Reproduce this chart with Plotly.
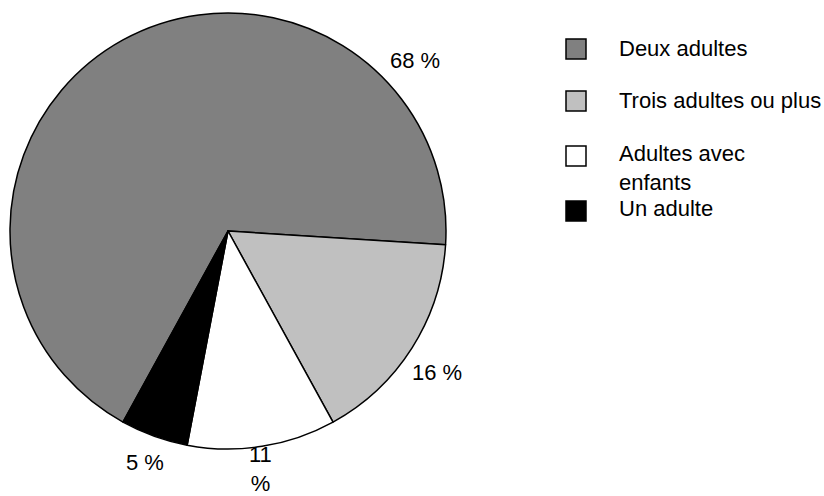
import plotly.graph_objects as go

# Household composition shares (%)
categories = ["Deux adultes", "Trois adultes ou plus", "Adultes avec enfants", "Un adulte"]
values = [68, 16, 11, 5]
colors = ["#808080", "#c0c0c0", "#ffffff", "#000000"]
legend_labels = ["Deux adultes", "Trois adultes ou plus", "Adultes avec<br>enfants", "Un adulte"]
value_labels = ["68 %", "16 %", "11<br>%", "5 %"]

W, H = 824, 496
FONT = dict(family="Liberation Sans, Arial, sans-serif", size=22, color="#000000")

fig = go.Figure()
fig.add_trace(go.Pie(
    labels=categories,
    values=values,
    sort=False,
    direction="clockwise",
    rotation=208.8,
    marker=dict(colors=colors, line=dict(color="#000000", width=1.5)),
    textinfo="none",
    hoverinfo="label+percent",
    showlegend=False,
    domain=dict(x=[10 / W, 446 / W], y=[47 / H, 483 / H]),
))

# Value labels around the pie: pixel anchor and vertical anchoring of each label
label_pos = [(415, 60, "middle"), (437, 372, "middle"), (260, 498, "bottom"), (145, 462, "middle")]
for txt, (px, py, ya) in zip(value_labels, label_pos):
    fig.add_annotation(x=px / W, y=1 - py / H, xref="paper", yref="paper",
                       text=txt, showarrow=False, font=FONT, align="center",
                       xanchor="center", yanchor=ya)

# Legend: swatches and labels
swatch_y = [49, 101, 156, 211]
text_y = [49, 100, 168, 208]
for lab, col, sy, ty in zip(legend_labels, colors, swatch_y, text_y):
    fig.add_shape(type="rect", xref="paper", yref="paper",
                  x0=566 / W, x1=586 / W, y0=1 - (sy - 10) / H, y1=1 - (sy + 10) / H,
                  fillcolor=col, line=dict(color="#000000", width=1.5))
    fig.add_annotation(x=617 / W, y=1 - ty / H, xref="paper", yref="paper",
                       text=lab, showarrow=False, font=FONT, align="left",
                       xanchor="left", yanchor="middle")

fig.update_layout(
    width=W, height=H,
    margin=dict(l=0, r=0, t=0, b=0),
    paper_bgcolor="#ffffff",
    plot_bgcolor="#ffffff",
    font=FONT,
)

fig.write_html("out.html")
